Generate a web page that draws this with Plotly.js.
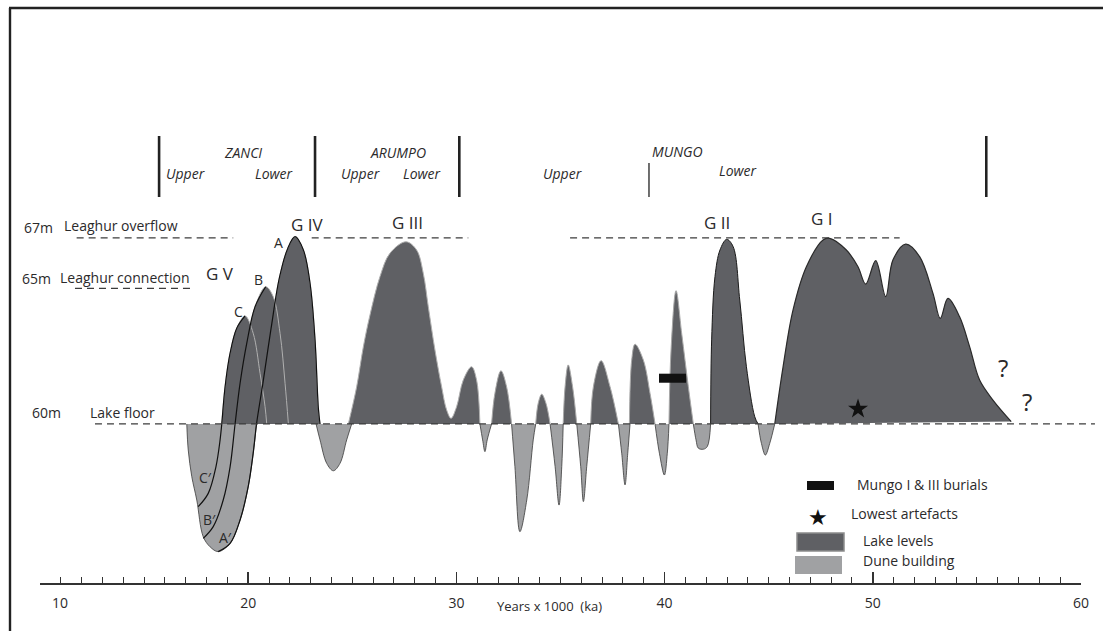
<!DOCTYPE html>
<html><head><meta charset="utf-8">
<script src="https://cdn.plot.ly/plotly-3.0.1.min.js"></script>
<style>html,body{margin:0;padding:0;background:#fff}#chart{width:1103px;height:631px}</style>
</head><body><div id="chart"></div>
<script>
// ---------- axis ----------
const tickValues = [10, 20, 30, 40, 50, 60];
const tickLabels = ['10', '20', '30', '40', '50', '60'];

// ---------- lake-level arches (ka, metres) ----------
const gvC_ka = [18.73, 18.89, 19.13, 19.45, 19.85, 20.24, 20.57, 20.81, 20.89];
const gvC_m  = [60, 61.4, 62.66, 63.6, 64.06, 63.41, 61.9, 60.65, 60];
const gvB_ka = [19.37, 19.61, 19.93, 20.33, 20.84, 21.2, 21.53, 21.77, 21.93];
const gvB_m  = [60, 61.53, 63.03, 64.41, 65.16, 64.79, 63.41, 61.53, 60];
const givA_ka = [20.4, 20.7, 21.1, 21.5, 21.9, 22.25, 22.65, 22.97, 23.21, 23.37, 23.45];
const givA_m  = [60, 61.5, 63.6, 65.5, 66.6, 67.04, 66.54, 65.29, 63.16, 60.59, 60];
const giii_ka = [24.81, 25.21, 25.53, 25.85, 26.33, 26.81, 27.58, 28.09, 28.41, 28.65, 28.97, 29.29, 29.53, 29.74, 30.01, 30.33, 30.73, 30.97, 31.13];
const giii_m  = [60, 61.4, 62.9, 64.1, 65.54, 66.42, 66.85, 66.54, 65.66, 64.41, 62.78, 61.4, 60.53, 60.21, 60.65, 61.65, 62.15, 61.65, 60];
const arch3_ka = [31.69, 31.85, 32.14, 32.41, 32.65];
const arch3_m  = [60, 61.15, 62.0, 61.4, 60];
const arch4_ka = [33.81, 33.93, 34.1, 34.3, 34.5];
const arch4_m  = [60, 60.78, 61.12, 60.78, 60];
const arch5_ka = [35.13, 35.22, 35.37, 35.58, 35.78];
const arch5_m  = [60, 61.4, 62.22, 61.4, 60];
const arch6_ka = [36.45, 36.58, 36.95, 37.38, 37.78];
const arch6_m  = [60, 61.4, 62.38, 61.4, 60];
const arch7_ka = [38.31, 38.42, 38.58, 38.98, 39.3, 39.54];
const arch7_m  = [60, 62.4, 63.0, 62.4, 61.15, 60];
const arch8_ka = [40.21, 40.31, 40.55, 40.82, 41.14, 41.38];
const arch8_m  = [60, 62.78, 65.01, 63.41, 61.4, 60];
const gii_ka = [42.21, 42.26, 42.42, 42.66, 42.98, 43.29, 43.61, 43.93, 44.33, 44.49];
const gii_m  = [60, 63.16, 65.54, 66.54, 66.94, 66.67, 64.66, 62.15, 60.27, 60];
const gi_ka = [45.29, 45.69, 46.17, 46.81, 47.61, 47.93, 48.73, 49.29, 49.66, 50.14, 50.62, 50.97, 51.58, 52.25, 52.89, 53.24, 53.61, 54.17, 54.65, 55.13, 55.77, 56.65];
const gi_m  = [60, 62.15, 64.29, 65.91, 66.92, 66.98, 66.54, 65.91, 65.26, 66.14, 64.79, 66.17, 66.76, 66.29, 64.91, 63.97, 64.72, 64.03, 62.91, 61.65, 60.9, 60.09];

// ---------- dune-building troughs (ka, metres) ----------
const dune1_ka = [17.05, 17.12, 17.29, 17.53, 17.84, 18.17, 18.56, 19.13, 19.61, 20.0, 20.24, 20.4];
const dune1_m  = [60, 59.02, 58.02, 57.14, 55.76, 55.38, 55.2, 55.51, 56.39, 57.64, 58.9, 60];
const dune2_ka = [23.26, 23.45, 23.77, 24.09, 24.41, 24.73, 24.97];
const dune2_m  = [60, 59.4, 58.52, 58.24, 58.52, 59.4, 60];
const dune3_ka = [31.13, 31.26, 31.37, 31.48, 31.69];
const dune3_m  = [60, 59.4, 58.96, 59.4, 60];
const dune4_ka = [32.65, 32.81, 33.05, 33.38, 33.69, 33.81];
const dune4_m  = [60, 58.4, 55.95, 57.14, 59.4, 60];
const dune5_ka = [34.5, 34.74, 34.93, 35.06, 35.13];
const dune5_m  = [60, 58.4, 56.95, 58.4, 60];
const dune6_ka = [35.78, 35.97, 36.1, 36.26, 36.45];
const dune6_m  = [60, 58.4, 57.08, 58.4, 60];
const dune7_ka = [37.78, 37.94, 38.1, 38.23, 38.34];
const dune7_m  = [60, 58.9, 57.71, 58.9, 60];
const dune8_ka = [39.54, 39.75, 39.99, 40.13, 40.21];
const dune8_m  = [60, 58.9, 58.08, 58.9, 60];
const dune9_ka = [41.38, 41.51, 41.62, 41.86, 42.05, 42.21];
const dune9_m  = [60, 59.4, 59.09, 59.05, 59.15, 60];
const dune10_ka = [44.49, 44.65, 44.84, 45.05, 45.29];
const dune10_m  = [60, 59.27, 58.83, 59.27, 60];

// ---------- GV/GIV correlation lines A-A', B-B', C-C' ----------
const lineA_ka = [18.56, 19.13, 19.61, 20.0, 20.24, 20.4, 20.7, 21.1, 21.5, 21.9, 22.25, 22.65, 22.97, 23.21, 23.37, 23.45];
const lineA_m  = [55.2, 55.51, 56.39, 57.64, 58.9, 60, 61.5, 63.6, 65.5, 66.6, 67.04, 66.54, 65.29, 63.16, 60.59, 60];
const lineB_ka = [17.84, 18.32, 18.8, 19.13, 19.37, 19.61, 19.93, 20.33, 20.84];
const lineB_m  = [55.7, 56.14, 57.14, 58.39, 60, 61.53, 63.03, 64.41, 65.16];
const lineC_ka = [17.6, 18.08, 18.45, 18.65, 18.73, 18.89, 19.13, 19.45, 19.85];
const lineC_m  = [56.89, 57.39, 58.39, 59.4, 60, 61.4, 62.66, 63.6, 64.06];

// ---------- reference levels ----------
const floorLevel = 60, connectionLevel = 65.1, overflowLevel = 67;
const floorSpan = [12.64, 60.67];
const connectionSpan = [11.68, 17.29];
const overflowSpans = [[11.76, 19.28], [23.05, 30.57], [35.46, 51.29]];

// ---------- stratigraphic units ----------
const unitBoundaries = [15.72, 23.21, 30.14, 55.45];
const subUnitBoundaries = [39.25];

// ---------- finds ----------
const burialKa = [39.73, 41.03];
const burialM = 61.72;
const artefactKa = [49.29];
const artefactM = [60.56];

// ---------- layout geometry ----------
const XR = [10, 60], YR = [54.02, 75.64];
const ML = 40, MT = 8, PW = 1041, PH = 575, BOT = 583;
const xp = v => (v - XR[0]) / (XR[1] - XR[0]);
const yp = v => (v - YR[0]) / (YR[1] - YR[0]);
const pxX = x => (x - ML) / PW;
const pxY = y => (BOT - y) / PH;

const DARK = '#5f6064', LIGHT = '#a0a1a3';
const FONT = 'Open Sans, sans-serif';
const TXT = '#2b2a2b';

const traces = [];
function area(xs, ys, fill, lineColor, lw) {
  traces.push({x: xs, y: ys, type: 'scatter', mode: 'lines', fill: 'toself', fillcolor: fill,
    line: {color: lineColor, width: lw, shape: 'spline', smoothing: 1}, hoverinfo: 'skip', showlegend: false});
}
function line(xs, ys, color, lw) {
  traces.push({x: xs, y: ys, type: 'scatter', mode: 'lines',
    line: {color: color, width: lw, shape: 'spline', smoothing: 1}, hoverinfo: 'skip', showlegend: false});
}

// dune troughs
[[dune1_ka, dune1_m], [dune2_ka, dune2_m], [dune3_ka, dune3_m], [dune4_ka, dune4_m], [dune5_ka, dune5_m],
 [dune6_ka, dune6_m], [dune7_ka, dune7_m], [dune8_ka, dune8_m], [dune9_ka, dune9_m], [dune10_ka, dune10_m]]
 .forEach(d => area(d[0], d[1], LIGHT, '#3a3a3a', 0.8));
// lake arches
area(givA_ka, givA_m, DARK, '#b0b0b0', 1);
area(gvB_ka, gvB_m, DARK, '#b0b0b0', 1);
area(gvC_ka, gvC_m, DARK, '#b0b0b0', 1);
area(giii_ka, giii_m, DARK, '#b0b0b0', 1);
[[arch3_ka, arch3_m], [arch4_ka, arch4_m], [arch5_ka, arch5_m], [arch6_ka, arch6_m], [arch7_ka, arch7_m], [arch8_ka, arch8_m]]
 .forEach(d => area(d[0], d[1], DARK, '#a8a8a8', 1));
area(gii_ka, gii_m, DARK, '#1a1a1a', 1);
area(gi_ka, gi_m, DARK, '#2a2a2a', 1.2);
// correlation lines
line(lineA_ka, lineA_m, '#111', 1.2);
line(lineB_ka, lineB_m, '#111', 1.2);
line(lineC_ka, lineC_m, '#111', 1.2);
// lowest artefacts
traces.push({x: artefactKa, y: artefactM, type: 'scatter', mode: 'markers',
  marker: {symbol: 'star', size: 15, color: '#111'}, hoverinfo: 'skip', showlegend: false});

// shapes
const shapes = [];
const dash = {color: '#3c3c3c', width: 1.3, dash: '7px,5px'};
shapes.push({type: 'line', xref: 'paper', yref: 'paper', x0: xp(floorSpan[0]), x1: xp(floorSpan[1]),
  y0: yp(floorLevel), y1: yp(floorLevel), line: dash});
shapes.push({type: 'line', xref: 'paper', yref: 'paper', x0: xp(connectionSpan[0]), x1: xp(connectionSpan[1]),
  y0: yp(connectionLevel), y1: yp(connectionLevel), line: dash});
overflowSpans.forEach(s => shapes.push({type: 'line', xref: 'paper', yref: 'paper', x0: xp(s[0]), x1: xp(s[1]),
  y0: yp(overflowLevel), y1: yp(overflowLevel), line: dash}));
unitBoundaries.forEach(b => shapes.push({type: 'line', xref: 'paper', yref: 'paper', x0: xp(b), x1: xp(b),
  y0: pxY(197), y1: pxY(136), line: {color: '#222', width: 2.6}}));
subUnitBoundaries.forEach(b => shapes.push({type: 'line', xref: 'paper', yref: 'paper', x0: xp(b), x1: xp(b),
  y0: pxY(197), y1: pxY(163), line: {color: '#222', width: 1.3}}));
shapes.push({type: 'rect', xref: 'x', yref: 'y', x0: burialKa[0], x1: burialKa[1],
  y0: burialM - 0.17, y1: burialM + 0.17, fillcolor: '#111', line: {width: 0}});
// frame
shapes.push({type: 'line', xref: 'paper', yref: 'paper', x0: pxX(10), x1: pxX(10), y0: pxY(8), y1: pxY(650), line: {color: '#222', width: 2.4}});
shapes.push({type: 'line', xref: 'paper', yref: 'paper', x0: pxX(9), x1: pxX(1110), y0: pxY(8), y1: pxY(8), line: {color: '#222', width: 2.4}});
// legend swatches
shapes.push({type: 'rect', xref: 'paper', yref: 'paper', x0: pxX(807), x1: pxX(834), y0: pxY(490), y1: pxY(481), fillcolor: '#111', line: {width: 0}});
shapes.push({type: 'rect', xref: 'paper', yref: 'paper', x0: pxX(797), x1: pxX(844), y0: pxY(551), y1: pxY(533), fillcolor: DARK, line: {color: '#8c8c8c', width: 1.5}});
shapes.push({type: 'rect', xref: 'paper', yref: 'paper', x0: pxX(795), x1: pxX(842), y0: pxY(574), y1: pxY(556), fillcolor: LIGHT, line: {width: 0}});

// annotations
const ann = [];
function t(text, x, y, size, anchor, opts) {
  ann.push(Object.assign({text: text, xref: 'paper', yref: 'paper', x: pxX(x), y: pxY(y),
    xanchor: anchor || 'left', yanchor: 'middle', showarrow: false,
    font: {family: FONT, size: size, color: TXT}}, opts || {}));
}
const IT = s => '<i>' + s + '</i>';
t(IT('ZANCI'), 243, 152, 14, 'center');
t(IT('Upper'), 185, 173, 14, 'center');
t(IT('Lower'), 274, 173, 14, 'center');
t(IT('ARUMPO'), 398, 152, 14, 'center');
t(IT('Upper'), 360, 173, 14, 'center');
t(IT('Lower'), 422, 173, 14, 'center');
t(IT('MUNGO'), 677, 151, 14, 'center');
t(IT('Upper'), 562, 173, 14, 'center');
t(IT('Lower'), 738, 171, 14, 'center');
t('67m', 38, 227, 14, 'center');
t('Leaghur overflow', 62, 226, 14);
t('65m', 36, 278, 14, 'center');
t('Leaghur connection', 58, 277, 14);
t('60m', 46, 413, 14, 'center');
t('Lake floor', 88, 413, 14);
t('G V', 204, 273, 17);
t('G IV', 289, 224, 17);
t('G III', 390, 222, 17);
t('G II', 702, 222, 17);
t('G I', 809, 218, 17);
t('A', 278, 243, 14, 'center');
t('B', 258, 279, 14, 'center');
t('C', 238, 311, 14, 'center');
t('C′', 197, 478, 14);
t('B′', 201, 519, 14);
t('A′', 217, 537, 14);
t('?', 1003, 368, 24, 'center');
t('?', 1027, 401, 24, 'center');
t('Years x 1000  (ka)', 549, 606, 13, 'center');
t('Mungo I &amp; III burials', 855, 484, 14);
t('★', 818, 517, 22, 'center', {font: {family: 'DejaVu Sans', size: 22, color: '#111'}});
t('Lowest artefacts', 849, 513, 14);
t('Lake levels', 861, 540, 14);
t('Dune building', 861, 560, 14);

const pad = '\u00a0'.repeat(11);
const layout = {
  width: 1103, height: 631,
  margin: {l: ML, r: 1103 - ML - PW, t: MT, b: 631 - MT - PH, pad: 0},
  paper_bgcolor: '#fff', plot_bgcolor: 'rgba(0,0,0,0)',
  showlegend: false,
  xaxis: {range: XR, showgrid: false, zeroline: false, showline: true, linecolor: '#333', linewidth: 1.5,
    ticks: 'inside', ticklen: 11, tickwidth: 1.5, tickcolor: '#333',
    tickvals: tickValues, ticktext: tickLabels.map((s, i) => i === 0 ? pad + s : s),
    tickfont: {family: FONT, size: 14, color: TXT}, ticklabelstandoff: 7,
    minor: {dtick: 1, tick0: 10, ticks: 'inside', ticklen: 6, tickwidth: 1, tickcolor: '#333', showgrid: false},
    fixedrange: true},
  yaxis: {range: YR, visible: false, showgrid: false, zeroline: false, fixedrange: true},
  shapes: shapes,
  annotations: ann
};
Plotly.newPlot('chart', traces, layout, {staticPlot: true, displayModeBar: false});
</script></body></html>
